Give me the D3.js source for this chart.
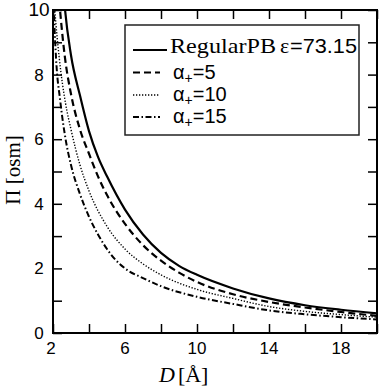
<!DOCTYPE html>
<html><head><meta charset="utf-8">
<script src="https://cdn.jsdelivr.net/npm/d3@7"></script>
<style>body{margin:0;background:#fff}svg{display:block}</style>
</head><body>
<script>
// ---- data ----
const regularD   = [2.5, 2.67, 3.0, 3.5, 4.0, 4.5, 5.0, 6.0, 7.0, 8.0, 9.0, 10, 12, 14, 16, 18, 20];
const regularPi  = [11.2, 10.0, 8.6, 7.35, 6.25, 5.45, 4.85, 3.82, 3.05, 2.48, 2.08, 1.8, 1.38, 1.07, 0.86, 0.72, 0.61];
const alpha5D    = [2.2, 2.39, 2.67, 3.0, 3.5, 4.0, 4.5, 5.0, 6.0, 7.0, 8.0, 9.0, 10, 12, 14, 16, 18, 20];
const alpha5Pi   = [11.3, 10.0, 8.5, 7.4, 6.3, 5.55, 4.85, 4.27, 3.38, 2.72, 2.24, 1.87, 1.58, 1.2, 0.96, 0.79, 0.65, 0.53];
const alpha10D   = [2.0, 2.1, 2.35, 2.7, 3.0, 3.5, 4.0, 5.0, 6.0, 7.0, 8.0, 10, 12, 14, 16, 18, 20];
const alpha10Pi  = [10.8, 10.0, 8.5, 7.1, 6.3, 5.2, 4.4, 3.3, 2.6, 2.14, 1.8, 1.35, 1.07, 0.82, 0.67, 0.57, 0.49];
const alpha15D   = [2.0, 2.05, 2.17, 2.4, 2.7, 3.0, 3.5, 4.0, 4.5, 5.0, 5.5, 6.0, 7.0, 8.0, 10, 12, 14, 16, 18, 20];
const alpha15Pi  = [11.0, 10.0, 8.5, 7.2, 6.0, 5.2, 4.3, 3.6, 3.05, 2.6, 2.25, 2.0, 1.7, 1.45, 1.12, 0.9, 0.7, 0.58, 0.49, 0.42];
const xTickLabels = [2, 6, 10, 14, 18];
const yTickLabels = [0, 2, 4, 6, 8, 10];
const legendAlphas = ["5", "10", "15"];

const W = 381, H = 388;
const L = 53, R = 377, T = 10, B = 333;
const svg = d3.select("body").append("svg").attr("width", W).attr("height", H);
const x = d3.scaleLinear().domain([2, 20]).range([L, R]);
const y = d3.scaleLinear().domain([0, 10]).range([B, T]);

svg.append("clipPath").attr("id", "clip").append("rect")
  .attr("x", L).attr("y", T).attr("width", R - L).attr("height", B - T);

const styles = [
  {D: regularD, P: regularPi, w: 2.2, dash: null},
  {D: alpha5D, P: alpha5Pi, w: 2.2, dash: "7,4"},
  {D: alpha10D, P: alpha10Pi, w: 1.4, dash: "1.3,1.7"},
  {D: alpha15D, P: alpha15Pi, w: 2.0, dash: "6,2.5,1.5,2.5"}
];
const line = d3.line().curve(d3.curveMonotoneX);
const g = svg.append("g").attr("clip-path", "url(#clip)");
styles.forEach(s => {
  const pts = s.D.map((d, i) => [x(d), y(s.P[i])]);
  g.append("path").attr("d", line(pts)).attr("fill", "none")
    .attr("stroke", "#000").attr("stroke-width", s.w)
    .attr("stroke-dasharray", s.dash);
});

// axes (ticks inward on all four sides)
const tk = 9;
const xAxB = d3.axisBottom(x).tickValues(d3.range(2, 21, 2)).tickSize(-tk).tickFormat("");
const xAxT = d3.axisTop(x).tickValues(d3.range(2, 21, 2)).tickSize(-tk).tickFormat("");
const yAxL = d3.axisLeft(y).tickValues(d3.range(0, 11, 1)).tickSize(-tk).tickFormat("");
const yAxR = d3.axisRight(y).tickValues(d3.range(0, 11, 1)).tickSize(-tk).tickFormat("");
[[xAxB, `translate(0,${B})`], [xAxT, `translate(0,${T})`], [yAxL, `translate(${L},0)`], [yAxR, `translate(${R},0)`]]
  .forEach(([ax, tr]) => {
    const a = svg.append("g").attr("transform", tr).call(ax);
    a.select(".domain").remove();
    a.selectAll("line").attr("stroke", "#000").attr("stroke-width", 1.5);
  });
svg.append("rect").attr("x", L).attr("y", T).attr("width", R - L).attr("height", B - T)
  .attr("fill", "none").attr("stroke", "#000").attr("stroke-width", 2);

// tick labels
const sans = "'Liberation Sans', Arial, sans-serif";
const serif = "'Liberation Serif', 'Times New Roman', serif";
svg.append("g").selectAll("text").data(xTickLabels).join("text")
  .attr("x", d => x(d) - (d === 2 ? 2 : 0)).attr("y", 354).attr("text-anchor", "middle")
  .attr("font-family", sans).attr("font-size", 17).text(d => d);
svg.append("g").selectAll("text").data(yTickLabels).join("text")
  .attr("x", 39).attr("y", d => y(d) + 6).attr("text-anchor", "middle")
  .attr("font-family", sans).attr("font-size", d => d === 10 ? 19 : 17).text(d => d);

// axis titles
const xt = svg.append("text").attr("x", 159).attr("y", 382)
  .attr("font-family", serif).attr("font-size", 22);
xt.append("tspan").attr("font-style", "italic").text("D");
xt.append("tspan").attr("dx", 3).text("[Å]");
svg.append("text").attr("transform", "translate(20,170) rotate(-90)")
  .attr("text-anchor", "middle").attr("font-family", serif).attr("font-size", 21)
  .text("Π [osm]");

// legend
const lg = svg.append("g");
lg.append("rect").attr("x", 125).attr("y", 25).attr("width", 234).attr("height", 110)
  .attr("fill", "#fff").attr("stroke", "#222").attr("stroke-width", 1.5);
const rowsY = [50, 72.5, 95, 117];
styles.forEach((s, i) => {
  lg.append("line").attr("x1", 133).attr("x2", i === 0 ? 167 : 160)
    .attr("y1", rowsY[i]).attr("y2", rowsY[i])
    .attr("stroke", "#000").attr("stroke-width", s.w).attr("stroke-dasharray", s.dash);
});
lg.append("text").attr("x", 170).attr("y", 53).attr("font-size", 22)
  .attr("font-family", serif).attr("textLength", 106).attr("lengthAdjust", "spacingAndGlyphs")
  .text("RegularPB");
lg.append("text").attr("x", 280).attr("y", 53).attr("font-size", 22)
  .attr("font-family", serif).text("ε");
lg.append("text").attr("x", 290).attr("y", 53).attr("font-size", 21)
  .attr("font-family", sans).attr("textLength", 67).attr("lengthAdjust", "spacingAndGlyphs")
  .text("=73.15");
legendAlphas.forEach((a, i) => {
  const t = lg.append("text").attr("x", 173).attr("y", rowsY[i + 1] + 6)
    .attr("font-family", sans).attr("font-size", 20);
  t.append("tspan").text("α");
  t.append("tspan").attr("font-size", 14).attr("dy", 4).text("+");
  t.append("tspan").attr("dy", -4).text("=" + a);
});
</script>
</body></html>
